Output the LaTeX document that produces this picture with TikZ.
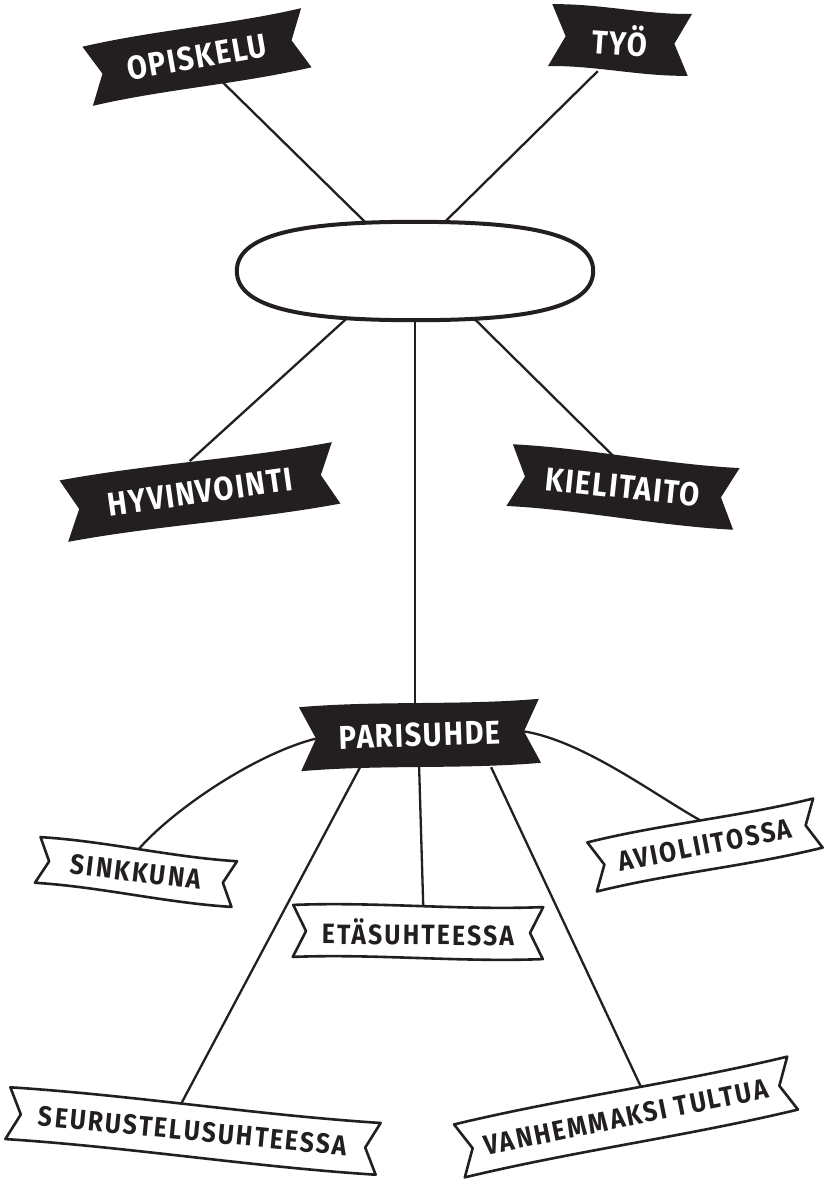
\documentclass[tikz,border=0pt]{standalone}
\usepackage{fontspec}
\setmainfont{Fira Sans}
\usetikzlibrary{backgrounds,calc,shapes.geometric}
\definecolor{ink}{RGB}{35,31,32}
\tikzset{
  blackrib/.style={fill=ink},
  whiterib/.style={draw=ink, fill=white, line width=2.6pt, line join=round},
  blacktxt/.style={text=white, font=\fontsize{33}{33}\selectfont\bfseries\addfontfeatures{FakeStretch=0.88,LetterSpace=5}, inner sep=0pt},
  whitetxt/.style={text=ink, font=\fontsize{28}{28}\selectfont\bfseries\addfontfeatures{FakeStretch=0.88,LetterSpace=8}, inner sep=0pt},
  link/.style={draw=ink, line width=2.3pt},
  hub/.style={draw=ink, fill=white, line width=4pt},
}
% #1 name, #2 x,y, #3 angle, #4 length, #5 height, #6 ribbon style, #7 text style, #8 text
\newcommand\ribbon[8]{%
  \begin{scope}[shift={(#2)}, rotate=#3]
    \path[#6] (-#4/2,-#5/2) .. controls (-#4/6,-#5/2-4) and (#4/6,-#5/2+4) .. (#4/2,-#5/2)
      -- (#4/2-0.25*#5,0) -- (#4/2,#5/2)
      .. controls (#4/6,#5/2+4) and (-#4/6,#5/2-4) .. (-#4/2,#5/2)
      -- (-#4/2+0.25*#5,0) -- cycle;
  \end{scope}
  \node[#7, rotate=#3, minimum width={#4-0.5*#5}, minimum height=#5] (#1) at (#2) {#8};
}
\begin{document}
\begin{tikzpicture}[x=1pt,y=-1pt]
\useasboundingbox (0,0) rectangle (824,1181);

% central hub
\node[ellipse, minimum width=356pt, minimum height=98pt, inner sep=0pt] (ell) at (415,271) {};
\draw[hub] (ell.west) .. controls +(0,-40) and +(-100,0) .. (ell.north)
  .. controls +(100,0) and +(0,-40) .. (ell.east)
  .. controls +(0,40) and +(100,0) .. (ell.south)
  .. controls +(-100,0) and +(0,40) .. (ell.west) -- cycle;

% black ribbons
\ribbon{opiskelu}{197,57}{10}{222}{60}{blackrib}{blacktxt}{OPISKELU}
\ribbon{tyo}{620,40}{-4}{140}{62}{blackrib}{blacktxt}{TYÖ}
\ribbon{hyv}{200,492}{8}{275}{62}{blackrib}{blacktxt}{HYVINVOINTI}
\ribbon{kiel}{623,487}{-6}{228}{62}{blackrib}{blacktxt}{KIELITAITO}
\ribbon{paris}{420,735}{2}{240}{64}{blackrib}{blacktxt}{PARISUHDE}

% white ribbons
\ribbon{sink}{136,872}{-7}{198}{46}{whiterib}{whitetxt}{SINKKUNA}
\ribbon{eta}{418,932}{-0.5}{250}{52}{whiterib}{whitetxt}{ETÄSUHTEESSA}
\ribbon{avio}{705,845}{11}{230}{50}{whiterib}{whitetxt}{AVIOLIITOSSA}
\ribbon{seur}{193,1131}{-5.5}{372}{52}{whiterib}{whitetxt}{SEURUSTELUSUHTEESSA}
\ribbon{vanh}{626,1117}{11.5}{340}{54}{whiterib}{whitetxt}{VANHEMMAKSI TULTUA}

\begin{pgfonlayer}{background}
  \fill[white] (0,0) rectangle (824,1181);
  \draw[link] (ell.center) -- (opiskelu.center);
  \draw[link] ([xshift=-20pt]ell.center) -- ([xshift=-20pt]tyo.south);
  \draw[link] ([xshift=-16pt]ell.center) -- ([xshift=-6pt]hyv.north);
  \draw[link] ([xshift=11pt]ell.center) -- ([xshift=-13pt]kiel.north);
  \draw[link] (ell.center) -- (ell.center |- paris.north);
  \draw[link] (paris.west) .. controls +(-60,15) and +(35,-40) .. (sink.north);
  \draw[link] (paris.east) .. controls +(60,10) and +(-45,-25) .. (avio.north);
  \draw[link] ([xshift=-61pt]paris.south) -- ([xshift=-15pt]seur.north);
  \draw[link] ([xshift=-2pt]paris.south) -- ([xshift=5pt]eta.north);
  \draw[link] ([xshift=70pt]paris.south) -- ([xshift=22pt]vanh.north);
\end{pgfonlayer}
\end{tikzpicture}
\end{document}
